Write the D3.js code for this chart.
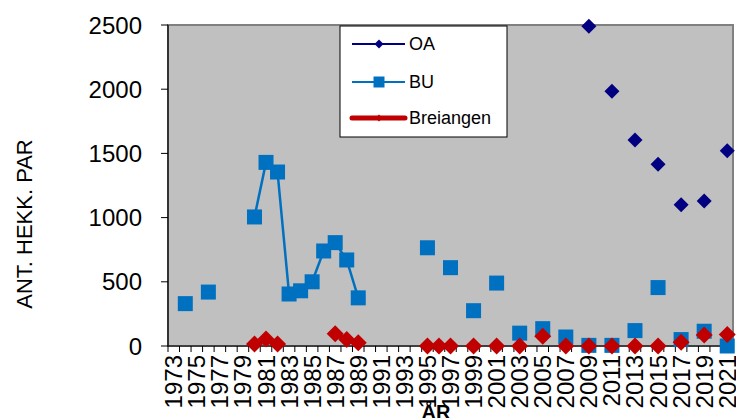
<!DOCTYPE html>
<html>
<head>
<meta charset="utf-8">
<script src="https://cdn.jsdelivr.net/npm/d3@7"></script>
<style>
  body { margin: 0; background: #fff; }
  text { font-family: Arial, 'Liberation Sans', sans-serif; fill: #000; }
</style>
</head>
<body>
<div id="chart"></div>
<script>
// years on the category axis
const years = d3.range(1973, 2022);
const tickYears = years.filter((d, i) => i % 2 === 0);
const yTicks = [0, 500, 1000, 1500, 2000, 2500];

// series values (null = no count that year)
const oaData = [
    [2009, 2490], [2011, 1985], [2013, 1605], [2015, 1415],
    [2017, 1100], [2019, 1130], [2021, 1520]
];
const buData = [
    [1974, 330], [1976, 420],
    [1980, 1005], [1981, 1430], [1982, 1355], [1983, 405], [1984, 430],
    [1985, 500], [1986, 740], [1987, 805], [1988, 670], [1989, 375],
    [1995, 765], [1997, 610], [1999, 275], [2001, 490], [2003, 100],
    [2005, 135], [2007, 70], [2009, 5], [2011, 5], [2013, 120],
    [2015, 455], [2017, 50], [2019, 115], [2021, 0]
];
const breiData = [
    [1980, 15], [1981, 55], [1982, 15],
    [1987, 95], [1988, 50], [1989, 25],
    [1995, 0], [1996, 0], [1997, 0], [1999, 0], [2001, 0], [2003, 0],
    [2005, 75], [2007, 0], [2009, 0], [2011, 0], [2013, 0], [2015, 0],
    [2017, 30], [2019, 85], [2021, 90]
];

const width = 736, height = 418;
const plotL = 168, plotR = 733, plotT = 25, plotB = 346;

const svg = d3.select('#chart')
    .append('svg')
    .attr('width', width)
    .attr('height', height);

const x = d3.scaleBand().domain(years).range([plotL, plotR]).padding(0);
const y = d3.scaleLinear().domain([0, 2500]).range([plotB, plotT]);
const cx = yr => x(yr) + x.bandwidth() / 2;

// plot area
svg.append('rect')
    .attr('x', plotL).attr('y', plotT)
    .attr('width', plotR - plotL).attr('height', plotB - plotT)
    .attr('fill', '#c0c0c0')
    .attr('stroke', '#808080')
    .attr('stroke-width', 2);

// y axis
svg.append('line')
    .attr('x1', plotL).attr('x2', plotL)
    .attr('y1', plotT).attr('y2', plotB)
    .attr('stroke', '#000').attr('stroke-width', 1.2);

svg.append('g')
    .selectAll('line')
    .data(yTicks)
    .join('line')
    .attr('x1', plotL - 7).attr('x2', plotL)
    .attr('y1', d => y(d)).attr('y2', d => y(d))
    .attr('stroke', '#000');

svg.append('g')
    .selectAll('text')
    .data(yTicks)
    .join('text')
    .attr('x', 142)
    .attr('y', d => y(d))
    .attr('text-anchor', 'end')
    .attr('dominant-baseline', 'central')
    .style('font-size', '24px')
    .text(d => d);

// x axis, ticks between categories
svg.append('line')
    .attr('x1', plotL).attr('x2', plotR)
    .attr('y1', plotB).attr('y2', plotB)
    .attr('stroke', '#000').attr('stroke-width', 1.2);

svg.append('g')
    .selectAll('line')
    .data(years.concat([2022]))
    .join('line')
    .attr('x1', d => d === 2022 ? plotR : x(d))
    .attr('x2', d => d === 2022 ? plotR : x(d))
    .attr('y1', plotB).attr('y2', plotB + 6)
    .attr('stroke', '#000');

svg.append('g')
    .selectAll('text')
    .data(tickYears)
    .join('text')
    .attr('transform', d => 'translate(' + cx(d) + ',355) rotate(-90)')
    .attr('text-anchor', 'end')
    .attr('dominant-baseline', 'central')
    .style('font-size', '24px')
    .text(d => d);

// axis titles
svg.append('text')
    .attr('transform', 'translate(24,224) rotate(-90)')
    .attr('text-anchor', 'middle')
    .attr('dominant-baseline', 'central')
    .style('font-size', '22px')
    .text('ANT. HEKK. PAR');

svg.append('text')
    .attr('x', 436).attr('y', 419)
    .attr('text-anchor', 'middle')
    .style('font-size', '20px')
    .style('font-weight', 'bold')
    .text('ÅR');

// line generator, breaks where a year is missing
function segments(data) {
    const out = [];
    let cur = [];
    data.forEach((d, i) => {
        if (i > 0 && d[0] - data[i - 1][0] > 1) { out.push(cur); cur = []; }
        cur.push(d);
    });
    out.push(cur);
    return out.filter(s => s.length > 1);
}
const line = d3.line().x(d => cx(d[0])).y(d => y(d[1]));

const diamond = s => 'M0,' + (-s) + 'L' + s + ',0L0,' + s + 'L' + (-s) + ',0Z';

// OA
svg.append('g')
    .selectAll('path')
    .data(segments(oaData))
    .join('path')
    .attr('d', line)
    .attr('fill', 'none')
    .attr('stroke', '#000080')
    .attr('stroke-width', 2);

svg.append('g')
    .selectAll('path')
    .data(oaData)
    .join('path')
    .attr('transform', d => 'translate(' + cx(d[0]) + ',' + y(d[1]) + ')')
    .attr('d', diamond(7.5))
    .attr('fill', '#000080');

// BU
svg.append('g')
    .selectAll('path')
    .data(segments(buData))
    .join('path')
    .attr('d', line)
    .attr('fill', 'none')
    .attr('stroke', '#0070c0')
    .attr('stroke-width', 2.5);

svg.append('g')
    .selectAll('rect')
    .data(buData)
    .join('rect')
    .attr('x', d => cx(d[0]) - 7.5)
    .attr('y', d => y(d[1]) - 7.5)
    .attr('width', 15).attr('height', 15)
    .attr('fill', '#0070c0');

// Breiangen
svg.append('g')
    .selectAll('path')
    .data(segments(breiData))
    .join('path')
    .attr('d', line)
    .attr('fill', 'none')
    .attr('stroke', '#c00000')
    .attr('stroke-width', 5);

svg.append('g')
    .selectAll('path')
    .data(breiData)
    .join('path')
    .attr('transform', d => 'translate(' + cx(d[0]) + ',' + y(d[1]) + ')')
    .attr('d', diamond(8.5))
    .attr('fill', '#c00000');

// legend
const legend = svg.append('g');
legend.append('rect')
    .attr('x', 340).attr('y', 26)
    .attr('width', 167).attr('height', 111)
    .attr('fill', '#fff')
    .attr('stroke', '#000');

const legendItems = [
    {name: 'OA', color: '#000080', w: 2, mark: 'diamond', s: 4.5, ly: 44},
    {name: 'BU', color: '#0070c0', w: 2, mark: 'square', s: 5.5, ly: 82},
    {name: 'Breiangen', color: '#c00000', w: 5, mark: 'diamond', s: 3.5, ly: 118}
];

const items = legend.selectAll('g')
    .data(legendItems)
    .join('g')
    .attr('transform', d => 'translate(0,' + d.ly + ')');

items.append('line')
    .attr('x1', 352).attr('x2', 405)
    .attr('stroke', d => d.color)
    .attr('stroke-width', d => d.w)
    .attr('stroke-linecap', d => d.w > 3 ? 'round' : 'butt');

items.append('path')
    .attr('transform', 'translate(379,0)')
    .attr('d', d => d.mark === 'square'
        ? 'M' + (-d.s) + ',' + (-d.s) + 'h' + (2 * d.s) + 'v' + (2 * d.s) + 'h' + (-2 * d.s) + 'Z'
        : diamond(d.s))
    .attr('fill', d => d.color);

items.append('text')
    .attr('x', 409)
    .attr('dominant-baseline', 'central')
    .style('font-size', '18px')
    .text(d => d.name);
</script>
</body>
</html>
